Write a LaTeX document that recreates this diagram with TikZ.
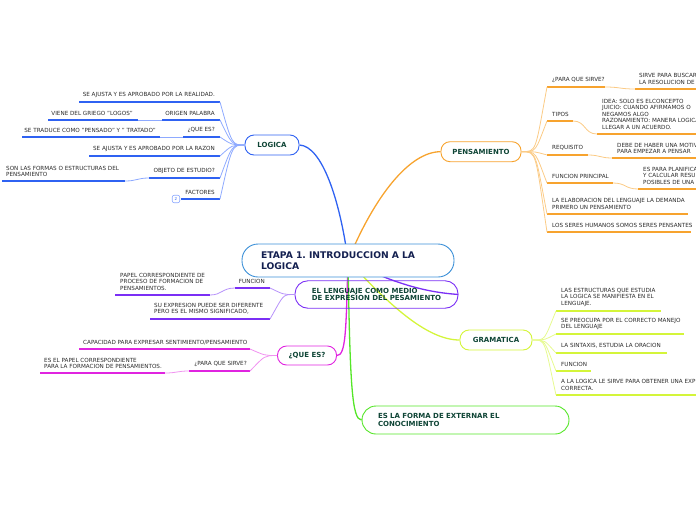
\documentclass[tikz,border=0pt]{standalone}
\usepackage{fontspec}
\setmainfont{DejaVu Sans}
\frenchspacing
\definecolor{txt}{HTML}{2A2A2A}
\definecolor{ttxt}{HTML}{0F4536}
\definecolor{rtxt}{HTML}{142050}
\definecolor{cRoot}{HTML}{3C90D8}
\definecolor{cB}{HTML}{2F62F2}
\definecolor{cBl}{HTML}{8EAAFF}
\definecolor{cO}{HTML}{F7A32E}
\definecolor{cOl}{HTML}{FBCB86}
\definecolor{cY}{HTML}{D4F53A}
\definecolor{cYl}{HTML}{E6FA90}
\definecolor{cP}{HTML}{7B2FF5}
\definecolor{cPl}{HTML}{B792FA}
\definecolor{cM}{HTML}{E024E0}
\definecolor{cMl}{HTML}{F092F0}
\definecolor{cG}{HTML}{55E628}
\pgfdeclarelayer{bg}
\pgfsetlayers{bg,main}
\begin{document}
\begin{tikzpicture}[x=1pt,y=-1pt,
  lbl/.style={font=\fontsize{5.65}{6.5}\selectfont, text=txt, inner sep=0pt, align=left},
  topic/.style={line width=0.9pt, fill=white, text=ttxt, font=\bfseries\fontsize{7}{8}\selectfont, inner sep=0pt, align=left},
  ul/.style={line width=2pt},
  fan/.style={line width=0.8pt},
  rootline/.style={line width=1.3pt}
]
\useasboundingbox (0,0) rectangle (696,520);

% ---------- topic nodes ----------
\node[topic, draw=cRoot, rounded corners=16pt, minimum width=212pt, minimum height=33pt,
      text width=174pt, inner xsep=19pt, text=rtxt, font=\bfseries\fontsize{9.2}{10.3}\selectfont] (root) at (348,260.5)
      {ETAPA 1. INTRODUCCION A LA\\LOGICA};
\node[topic, draw=cB, rounded corners=9pt, minimum width=54pt, minimum height=20pt] (logica) at (272,145) {LOGICA};
\node[topic, draw=cO, rounded corners=9pt, minimum width=80pt, minimum height=20pt] (pens) at (481,151.7) {PENSAMIENTO};
\node[topic, draw=cY, rounded corners=9pt, minimum width=72pt, minimum height=20pt] (gram) at (496,340) {GRAMATICA};
\node[topic, draw=cM, rounded corners=9pt, minimum width=59pt, minimum height=19pt] (quees) at (307,355.5) {¿QUE ES?};
\node[topic, draw=cP, fill=none, rounded corners=13pt, minimum width=163pt, minimum height=27.5pt,
      font=\bfseries\fontsize{7}{7.6}\selectfont] (leng) at (376.5,294.5)
      {EL LENGUAJE COMO MEDIO\\DE EXPRESION DEL PESAMIENTO};
\node[topic, draw=cG, rounded corners=14pt, minimum width=207pt, minimum height=28pt,
      text width=175pt, inner xsep=16pt, font=\bfseries\fontsize{7}{8.6}\selectfont] (forma) at (465.5,420)
      {ES LA FORMA DE EXTERNAR EL\\CONOCIMIENTO};

% ---------- root connectors ----------
\begin{pgfonlayer}{bg}
\draw[rootline, cB] (root.center) .. controls (340,200) and (322,146) .. (logica.east);
\draw[rootline, cO] (root.center) .. controls (375,195) and (410,151.7) .. (pens.west);
\draw[rootline, cY] (root.center) .. controls (385,300) and (425,340) .. (gram.west);
\draw[rootline, cP] (root.center) .. controls (405,290) and (440,293) .. (leng.east);
\draw[rootline, cM] (root.center) .. controls (346,330) and (346,355.5) .. (quees.east);
\draw[rootline, cG] (root.center) .. controls (350,385) and (352,420) .. (forma.west);
\end{pgfonlayer}

% ---------- LOGICA leaves ----------
\coordinate (l1s) at (79,102);  \coordinate (l1e) at (220,102);
\coordinate (l2s) at (162,120); \coordinate (l2e) at (220,120);
\coordinate (l2as) at (48,120); \coordinate (l2ae) at (138,120);
\coordinate (l3s) at (183,137); \coordinate (l3e) at (220,137);
\coordinate (l3as) at (22,137); \coordinate (l3ae) at (160,137);
\coordinate (l4s) at (89,156);    \coordinate (l4e) at (220,156);
\coordinate (l5s) at (149,178); \coordinate (l5e) at (220,178);
\coordinate (l5as) at (2,181);  \coordinate (l5ae) at (125,181);
\coordinate (l6s) at (181,199); \coordinate (l6e) at (220,199);
\node[lbl, anchor=south east] (l1) at (215,98) {SE AJUSTA Y ES APROBADO POR LA REALIDAD.};
\node[lbl, anchor=south east] (l2) at (215,116) {ORIGEN PALABRA};
\node[lbl, anchor=south east] (l2a) at (133,116) {VIENE DEL GRIEGO "LOGOS"};
\node[lbl, anchor=south east] (l3) at (215,133) {¿QUE ES?};
\node[lbl, anchor=south east] (l3a) at (156,133) {SE TRADUCE COMO "PENSADO" Y " TRATADO"};
\node[lbl, anchor=south east] (l4) at (215,151.7) {SE AJUSTA Y ES APROBADO POR LA RAZON};
\node[lbl, anchor=south east] (l5) at (215,174) {OBJETO DE ESTUDIO?};
\node[lbl, anchor=south west] (l5a) at (6,177) {SON LAS FORMAS O ESTRUCTURAS DEL\\PENSAMIENTO};
\node[lbl, anchor=south east] (l6) at (215,195) {FACTORES};
\foreach \a/\b in {l1s/l1e,l2s/l2e,l2as/l2ae,l3s/l3e,l3as/l3ae,l4s/l4e,l5s/l5e,l5as/l5ae,l6s/l6e}
  \draw[ul, cB] (\a) -- (\b);
\foreach \e in {l1e,l2e,l3e,l4e,l5e,l6e}
  \draw[fan, cBl] (logica.west) .. controls (232,145) and (232,145) .. (\e);
\draw[fan, cBl] (l2ae) -- (l2s);
\draw[fan, cBl] (l3ae) -- (l3s);
\draw[fan, cBl] (l5ae) .. controls (137,181) and (137,178) .. (l5s);
\node[draw=cBl, line width=0.6pt, fill=white, rounded corners=2pt, minimum size=7.5pt, inner sep=0pt,
      text=cB, font=\fontsize{4}{4}\selectfont] (cnt) at (176,199) {2};

% ---------- PENSAMIENTO leaves ----------
\coordinate (p1s) at (547,87);    \coordinate (p1e) at (605,87);
\coordinate (p1as) at (635,89);   \coordinate (p1ae) at (698,89);
\coordinate (p2s) at (547,121); \coordinate (p2e) at (573,121);
\coordinate (p2as) at (597,134);  \coordinate (p2ae) at (698,134);
\coordinate (p3s) at (547,155);   \coordinate (p3e) at (588,155);
\coordinate (p3as) at (612,158);\coordinate (p3ae) at (698,158);
\coordinate (p4s) at (547,183); \coordinate (p4e) at (613,183);
\coordinate (p4as) at (638,189);  \coordinate (p4ae) at (698,189);
\coordinate (p5s) at (547,214);   \coordinate (p5e) at (688,214);
\coordinate (p6s) at (547,232); \coordinate (p6e) at (691,232);
\node[lbl, anchor=south west] (p1) at (552,82.7) {¿PARA QUE SIRVE?};
\node[lbl, anchor=south west] (p1a) at (639,84.7) {SIRVE PARA BUSCAR\\LA RESOLUCION DE};
\node[lbl, anchor=south west] (p2) at (552,116.4) {TIPOS};
\node[lbl, anchor=south west] (p2a) at (602,129.7) {IDEA: SOLO ES ELCONCEPTO\\JUICIO: CUANDO AFIRMAMOS O\\NEGAMOS ALGO\\RAZONAMIENTO: MANERA LOGICA\\LLEGAR A UN ACUERDO.};
\node[lbl, anchor=south west] (p3) at (552,150.7) {REQUISITO};
\node[lbl, anchor=south west] (p3a) at (617,154) {DEBE DE HABER UNA MOTIV\\PARA EMPEZAR A PENSAR};
\node[lbl, anchor=south west] (p4) at (552,178.4) {FUNCION PRINCIPAL};
\node[lbl, anchor=south west] (p4a) at (643,184.7) {ES PARA PLANIFICA\\Y CALCULAR RESU\\POSIBLES DE UNA};
\node[lbl, anchor=south west] (p5) at (552,209.7) {LA ELABORACION DEL LENGUAJE LA DEMANDA\\PRIMERO UN PENSAMIENTO};
\node[lbl, anchor=south west] (p6) at (552,227.4) {LOS SERES HUMANOS SOMOS SERES PENSANTES};
\foreach \a/\b in {p1s/p1e,p1as/p1ae,p2s/p2e,p2as/p2ae,p3s/p3e,p3as/p3ae,p4s/p4e,p4as/p4ae,p5s/p5e,p6s/p6e}
  \draw[ul, cO] (\a) -- (\b);
\foreach \s in {p1s,p2s,p3s,p4s,p5s,p6s}
  \draw[fan, cOl] (pens.east) .. controls (537,151.7) and (535,151.7) .. (\s);
\draw[fan, cOl] (p1e) .. controls (620,87) and (620,89) .. (p1as);
\draw[fan, cOl] (p2e) .. controls (586,121) and (584,134) .. (p2as);
\draw[fan, cOl] (p3e) .. controls (600,155) and (600,158) .. (p3as);
\draw[fan, cOl] (p4e) .. controls (626,183) and (625,189) .. (p4as);

% ---------- GRAMATICA leaves ----------
\coordinate (g1s) at (556,311); \coordinate (g1e) at (661,311);
\coordinate (g2s) at (556,334); \coordinate (g2e) at (684,334);
\coordinate (g3s) at (556,353); \coordinate (g3e) at (667,353);
\coordinate (g4s) at (556,371); \coordinate (g4e) at (591,371);
\coordinate (g5s) at (556,395);   \coordinate (g5e) at (698,395);
\node[lbl, anchor=south west] (g1) at (561,306.4) {LAS ESTRUCTURAS QUE ESTUDIA\\LA LOGICA SE MANIFIESTA EN EL\\LENGUAJE.};
\node[lbl, anchor=south west] (g2) at (561,330) {SE PREOCUPA POR EL CORRECTO MANEJO\\DEL LENGUAJE};
\node[lbl, anchor=south west] (g3) at (561,348.4) {LA SINTAXIS, ESTUDIA LA ORACION};
\node[lbl, anchor=south west] (g4) at (561,366.4) {FUNCION};
\node[lbl, anchor=south west] (g5) at (561,390.7) {A LA LOGICA LE SIRVE PARA OBTENER UNA EXP\\CORRECTA.};
\foreach \a/\b in {g1s/g1e,g2s/g2e,g3s/g3e,g4s/g4e,g5s/g5e}
  \draw[ul, cY] (\a) -- (\b);
\foreach \s in {g1s,g2s,g3s,g4s,g5s}
  \draw[fan, cYl] (gram.east) .. controls (546,340) and (544,340) .. (\s);

% ---------- LENGUAJE leaves ----------
\coordinate (e1s) at (235,288); \coordinate (e1e) at (270,288);
\coordinate (e1as) at (115,295);  \coordinate (e1ae) at (210,295);
\coordinate (e2s) at (150,319);   \coordinate (e2e) at (270,319);
\node[lbl, anchor=south east] (e1) at (265,284) {FUNCION};
\node[lbl, anchor=south west] (e1a) at (120,290.7) {PAPEL CORRESPONDIENTE DE\\PROCESO DE FORMACION DE\\PENSAMIENTOS.};
\node[lbl, anchor=south west] (e2) at (154,314.7) {SU EXPRESION PUEDE SER DIFERENTE\\PERO ES EL MISMO SIGNIFICADO,};
\foreach \a/\b in {e1s/e1e,e1as/e1ae,e2s/e2e}
  \draw[ul, cP] (\a) -- (\b);
\foreach \e in {e1e,e2e}
  \draw[fan, cPl] (leng.west) .. controls (282,294.5) and (284,294.5) .. (\e);
\draw[fan, cPl] (e1ae) .. controls (222,295) and (222,288) .. (e1s);

% ---------- QUE ES leaves ----------
\coordinate (q1s) at (79,349);  \coordinate (q1e) at (250,349);
\coordinate (q2s) at (189,371); \coordinate (q2e) at (250,371);
\coordinate (q2as) at (40,373); \coordinate (q2ae) at (165,373);
\node[lbl, anchor=south west] (q1) at (83,345) {CAPACIDAD PARA EXPRESAR SENTIMIENTO/PENSAMIENTO};
\node[lbl, anchor=south east] (q2) at (247,366.4) {¿PARA QUE SIRVE?};
\node[lbl, anchor=south west] (q2a) at (44,369) {ES EL PAPEL CORRESPONDIENTE\\PARA LA FORMACION DE PENSAMIENTOS.};
\foreach \a/\b in {q1s/q1e,q2s/q2e,q2as/q2ae}
  \draw[ul, cM] (\a) -- (\b);
\foreach \e in {q1e,q2e}
  \draw[fan, cMl] (quees.west) .. controls (264,355.5) and (265,355.5) .. (\e);
\draw[fan, cMl] (q2ae) .. controls (177,373) and (177,371) .. (q2s);
\end{tikzpicture}
\end{document}
